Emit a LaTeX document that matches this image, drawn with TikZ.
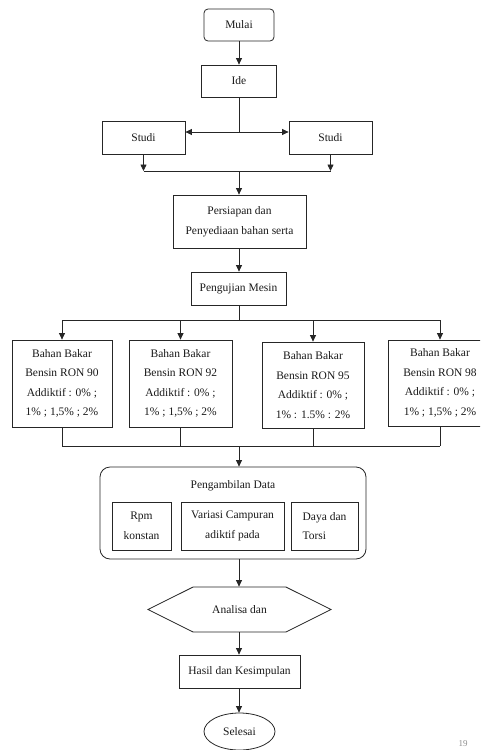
\documentclass[tikz,border=0pt]{standalone}
\usepackage{fontspec}
\setmainfont{Liberation Serif}
\usetikzlibrary{arrows.meta,shapes.geometric,shapes.symbols}
\tikzset{
  box/.style={draw=black!85,line width=0.8pt,rectangle,inner sep=0pt,align=center,text=black!90,font=\fontsize{11.5}{19.5}\selectfont},
  startbox/.style={box,rounded corners=4pt},
  groupbox/.style={box,rounded corners=10pt},
  hexbox/.style={box,signal,signal to=west and east,signal pointer angle=53},
  endbox/.style={box,ellipse},
  plain/.style={inner sep=0pt,text=black!90,font=\fontsize{11.5}{19.5}\selectfont},
  line/.style={draw=black!85,line width=0.8pt},
  arr/.style={line,-{Triangle[length=6.5pt,width=6pt]}},
  arrs/.style={line,{Triangle[length=6.5pt,width=6pt]}-{Triangle[length=6.5pt,width=6pt]}}
}
\begin{document}
\begin{tikzpicture}[x=1pt,y=-1pt]
        \useasboundingbox (0,0) rectangle (480,750);
        \clip (0,0) rectangle (480,750);
        \node[startbox,minimum width=70pt,minimum height=32pt](mulai) at (239,25) {Mulai};
        \node[box,minimum width=75pt,minimum height=32pt](ide) at (239,81) {Ide};
        \node[box,minimum width=83pt,minimum height=33pt](studia) at (143.5,137.5) {Studi};
        \node[box,minimum width=83pt,minimum height=33pt](studib) at (330.5,137.5) {Studi};
        \node[box,minimum width=133pt,minimum height=53pt](persiapan) at (239.5,221.5) {Persiapan dan\\Penyediaan bahan serta};
        \node[box,minimum width=95pt,minimum height=33pt](pengujian) at (238.5,288.5) {Pengujian Mesin};
        \node[box,minimum width=100pt,minimum height=87pt](ron90) at (62,383.5) {Bahan Bakar\\Bensin RON 90\\Addiktif : 0\% ;\\1\% ; 1,5\% ; 2\%};
        \node[box,minimum width=103pt,minimum height=87pt](ron92) at (180.5,383.5) {Bahan Bakar\\Bensin RON 92\\Addiktif : 0\% ;\\1\% ; 1,5\% ; 2\%};
        \node[box,minimum width=102pt,minimum height=86pt](ron95) at (313,385) {Bahan Bakar\\Bensin RON 95\\Addiktif : 0\% ;\\1\% : 1.5\% : 2\%};
        \node[box,minimum width=104pt,minimum height=86pt](ron98) at (440,383) {Bahan Bakar\\Bensin RON 98\\Addiktif : 0\% ;\\1\% ; 1,5\% ; 2\%};
        \node[groupbox,minimum width=266pt,minimum height=92pt](data) at (233,513) {};
        \node[plain](datatitle) at (233,486) {Pengambilan Data};
        \node[box,minimum width=59pt,minimum height=48pt](rpm) at (141.5,526) {Rpm\\konstan};
        \node[box,minimum width=103pt,minimum height=48pt](variasi) at (232.5,526) {Variasi Campuran\\adiktif pada};
        \node[box,minimum width=67pt,minimum height=48pt,align=left](daya) at (324.5,526) {Daya dan\\Torsi};
        \node[hexbox,minimum width=183pt,minimum height=45pt](analisa) at (239.5,609.5) {Analisa dan};
        \node[box,minimum width=121pt,minimum height=33pt](hasil) at (239.5,671.5) {Hasil dan Kesimpulan};
        \node[endbox,minimum width=71pt,minimum height=37pt](selesai) at (239.5,731.5) {Selesai};
        \node[plain,text=black!45,font=\fontsize{9}{10}\selectfont](hal) at (463,744) {19};
        \coordinate(split) at (239,132);
        \coordinate(join) at (239,171);
        \coordinate(fork) at (239,320);
        \coordinate(merge) at (239,446);
        \draw[arr](mulai)--(ide);
        \draw[line](ide.south)--(split);
        \draw[arrs](studia.east |- split)--(studib.west |- split);
        \draw[arr](studia.south)--(studia.south |- join);
        \draw[arr](studib.south)--(studib.south |- join);
        \draw[line](studia.south |- join)--(studib.south |- join);
        \draw[arr](join)--(persiapan.north -| join);
        \draw[arr](persiapan.south -| join)--(pengujian.north -| join);
        \draw[line](pengujian.south -| fork)--(fork);
        \draw[line](ron90.north |- fork)--(ron98.north |- fork);
        \foreach \r in {ron90,ron92,ron95,ron98}
          \draw[arr](\r.north |- fork)--(\r.north);
        \foreach \r in {ron90,ron92,ron95,ron98}
          \draw[line](\r.south)--(\r.south |- merge);
        \draw[line](ron90.south |- merge)--(ron98.south |- merge);
        \draw[arr](merge)--(merge |- data.north);
        \draw[arr](merge |- data.south)--(merge |- analisa.north);
        \draw[arr](merge |- analisa.south)--(merge |- hasil.north);
        \draw[arr](merge |- hasil.south)--(merge |- selesai.north);
        \end{tikzpicture}
\end{document}
